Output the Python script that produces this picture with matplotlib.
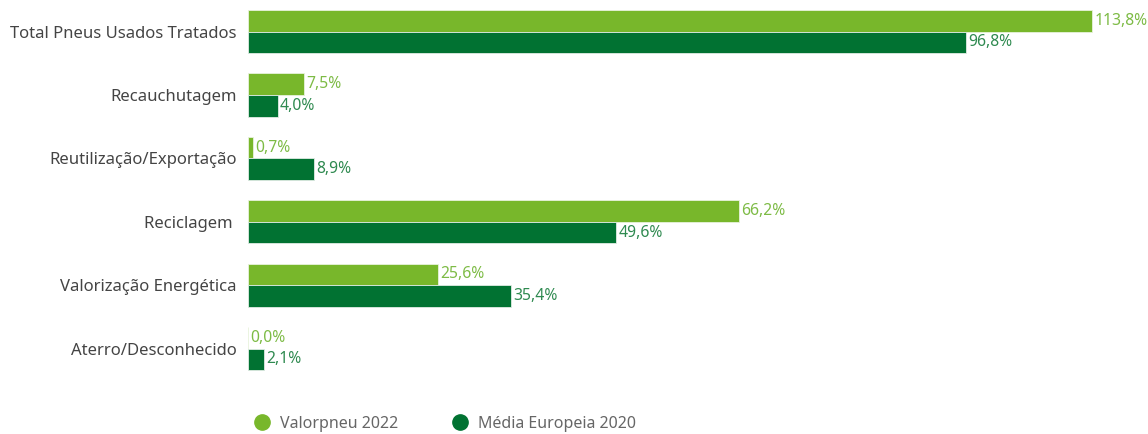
import numpy as np
import matplotlib.pyplot as plt
from matplotlib.lines import Line2D

categorias = ['Total Pneus Usados Tratados', 'Recauchutagem', 'Reutilização/Exportação',
              'Reciclagem ', 'Valorização Energética', 'Aterro/Desconhecido']
valorpneu_2022 = [113.8, 7.5, 0.7, 66.2, 25.6, 0.0]
media_europeia_2020 = [96.8, 4.0, 8.9, 49.6, 35.4, 2.1]
series_nomes = ['Valorpneu 2022', 'Média Europeia 2020']

cor_clara = '#78b72b'
cor_escura = '#017232'
cor_txt_clara = '#7dbb45'
cor_txt_escura = '#2f8a50'

plt.rcParams['font.family'] = ['Noto Sans', 'DejaVu Sans']
fs = 11.3

fig = plt.figure(figsize=(11.48, 4.34), dpi=100)
ax = fig.add_axes([248/1148, 34/434, 1 - 248/1148, 400/434])

y = np.arange(len(categorias))
h = 0.34
ax.barh(y - h/2, valorpneu_2022, height=h, color=cor_clara, edgecolor='#e8f2dc', linewidth=0.6)
ax.barh(y + h/2, media_europeia_2020, height=h, color=cor_escura, edgecolor='#e0ece4', linewidth=0.6)

# etiquetas de valor
for yy, v in zip(y, valorpneu_2022):
    ax.text(v + 0.3, yy - h/2, f'{v:.1f}%'.replace('.', ','), va='center', ha='left',
            fontsize=fs, color=cor_txt_clara)
for yy, v in zip(y, media_europeia_2020):
    ax.text(v + 0.3, yy + h/2, f'{v:.1f}%'.replace('.', ','), va='center', ha='left',
            fontsize=fs, color=cor_txt_escura, fontweight='medium')

ax.set_yticks(y)
ax.set_yticklabels(categorias, fontsize=12, color='#444444')
ax.tick_params(axis='y', length=0, pad=8)
ax.set_xticks([])
ax.set_xlim(0, 121.3)
ax.set_ylim(5.81, -0.497)
for s in ax.spines.values():
    s.set_visible(False)

handles = [Line2D([], [], marker='o', linestyle='', markersize=11, color=cor_clara),
           Line2D([], [], marker='o', linestyle='', markersize=11, color=cor_escura)]
fig.legend(handles, series_nomes, loc='center left', bbox_to_anchor=(240/1148, 1 - 424/434),
           ncol=2, frameon=False, fontsize=11.5, handlelength=1, handletextpad=0.6,
           columnspacing=3.4, labelcolor='#666666')

fig.savefig('out.png', dpi=100)
